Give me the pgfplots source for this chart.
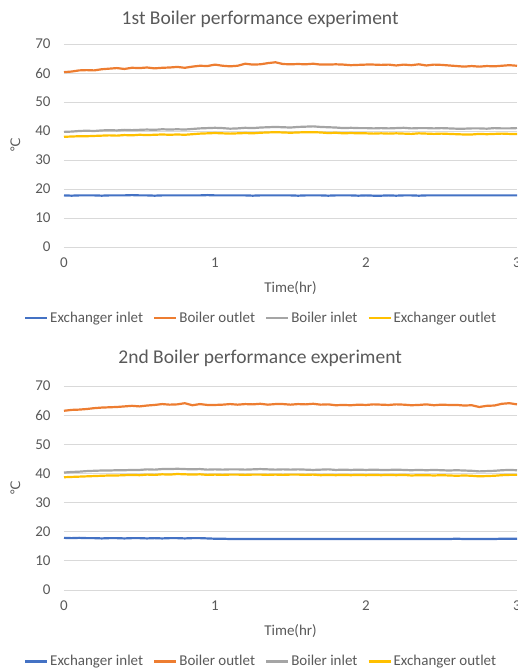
\documentclass[border=0pt]{standalone}
\usepackage{pgfplots}
\usepackage{pgfplotstable}
\pgfplotsset{compat=1.18}
\usepackage{fontspec}
\setmainfont{Carlito}
\newfontfamily\dejavu{DejaVu Sans}
\definecolor{txt}{HTML}{595959}
\definecolor{gridc}{HTML}{D9D9D9}
\definecolor{cblue}{HTML}{4472C4}
\definecolor{corange}{HTML}{ED7D31}
\definecolor{cgray}{HTML}{A5A5A5}
\definecolor{cyellow}{HTML}{FFC000}

\pgfplotstableread{
x a b c d
0.00 17.8 60.3 39.7 38.0
0.05 17.7 60.5 39.8 38.1
0.10 17.8 60.9 40.0 38.2
0.15 17.8 61.0 40.1 38.2
0.20 17.8 60.9 40.0 38.3
0.25 17.7 61.3 40.2 38.4
0.30 17.8 61.5 40.3 38.5
0.35 17.8 61.7 40.2 38.4
0.40 17.8 61.4 40.4 38.6
0.45 17.9 61.8 40.3 38.5
0.50 17.8 61.7 40.4 38.7
0.55 17.8 61.9 40.5 38.6
0.60 17.7 61.6 40.4 38.7
0.65 17.8 61.8 40.6 38.8
0.70 17.8 61.9 40.5 38.7
0.75 17.8 62.1 40.6 38.8
0.80 17.8 61.8 40.5 38.7
0.85 17.8 62.2 40.7 38.9
0.90 17.8 62.5 40.9 39.1
0.95 17.9 62.4 41.0 39.2
1.00 17.8 62.9 41.1 39.3
1.05 17.8 62.5 41.0 39.2
1.10 17.8 62.3 40.8 39.1
1.15 17.8 62.5 40.9 39.2
1.20 17.8 63.2 41.1 39.3
1.25 17.7 62.9 41.0 39.2
1.30 17.8 63.0 41.2 39.4
1.35 17.8 63.4 41.3 39.5
1.40 17.8 63.7 41.4 39.6
1.45 17.8 63.1 41.3 39.5
1.50 17.8 63.0 41.2 39.4
1.55 17.7 63.1 41.4 39.5
1.60 17.8 63.0 41.5 39.6
1.65 17.8 63.2 41.6 39.6
1.70 17.8 62.9 41.4 39.5
1.75 17.7 62.9 41.3 39.3
1.80 17.8 63.0 41.2 39.4
1.85 17.8 62.9 41.0 39.2
1.90 17.8 62.7 41.1 39.3
1.95 17.7 62.8 41.0 39.2
2.00 17.8 62.9 41.0 39.2
2.05 17.7 62.9 40.9 39.1
2.10 17.7 62.8 41.0 39.2
2.15 17.8 62.9 40.9 39.1
2.20 17.7 62.6 41.0 39.2
2.25 17.8 62.9 41.1 39.1
2.30 17.8 62.7 40.9 39.0
2.35 17.7 63.0 41.0 39.2
2.40 17.8 62.6 41.0 39.1
2.45 17.8 62.9 40.9 39.0
2.50 17.8 62.8 41.0 39.1
2.55 17.8 62.6 40.9 39.0
2.60 17.8 62.4 40.8 38.9
2.65 17.8 62.2 40.8 38.8
2.70 17.8 62.4 40.9 38.8
2.75 17.8 62.2 40.9 39.0
2.80 17.8 62.4 40.8 38.9
2.85 17.8 62.3 41.0 39.0
2.90 17.8 62.5 40.9 39.1
2.95 17.8 62.7 40.9 39.0
3.00 17.8 62.5 41.0 39.0
}\tabA

\pgfplotstableread{
x a b c d
0.00 17.9 61.5 40.3 38.7
0.05 17.8 61.8 40.5 38.8
0.10 17.9 61.9 40.6 38.9
0.15 17.8 62.1 40.8 39.0
0.20 17.8 62.4 40.9 39.1
0.25 17.7 62.6 41.0 39.2
0.30 17.8 62.7 41.0 39.3
0.35 17.8 62.8 41.1 39.3
0.40 17.7 63.0 41.1 39.4
0.45 17.8 63.2 41.2 39.5
0.50 17.8 63.0 41.2 39.4
0.55 17.7 63.3 41.4 39.6
0.60 17.8 63.5 41.3 39.5
0.65 17.7 63.8 41.5 39.7
0.70 17.8 63.6 41.5 39.6
0.75 17.8 63.7 41.6 39.8
0.80 17.7 64.1 41.5 39.7
0.85 17.8 63.4 41.4 39.6
0.90 17.8 63.8 41.5 39.7
0.95 17.7 63.5 41.3 39.5
1.00 17.6 63.5 41.4 39.6
1.05 17.6 63.6 41.3 39.5
1.10 17.5 63.8 41.4 39.6
1.15 17.5 63.6 41.4 39.6
1.20 17.5 63.8 41.3 39.5
1.25 17.5 63.7 41.4 39.6
1.30 17.5 63.9 41.5 39.6
1.35 17.5 63.6 41.4 39.5
1.40 17.5 63.8 41.3 39.6
1.45 17.5 63.8 41.4 39.5
1.50 17.5 63.6 41.3 39.6
1.55 17.5 63.8 41.4 39.6
1.60 17.5 63.7 41.3 39.5
1.65 17.5 63.9 41.2 39.6
1.70 17.5 63.6 41.3 39.4
1.75 17.5 63.7 41.4 39.5
1.80 17.5 63.4 41.2 39.4
1.85 17.5 63.5 41.3 39.5
1.90 17.5 63.4 41.2 39.4
1.95 17.5 63.6 41.3 39.5
2.00 17.5 63.5 41.2 39.4
2.05 17.5 63.7 41.3 39.5
2.10 17.5 63.6 41.2 39.4
2.15 17.5 63.5 41.2 39.5
2.20 17.5 63.7 41.3 39.4
2.25 17.5 63.6 41.2 39.5
2.30 17.5 63.4 41.1 39.3
2.35 17.5 63.5 41.2 39.4
2.40 17.5 63.7 41.1 39.4
2.45 17.5 63.4 41.2 39.3
2.50 17.5 63.6 41.1 39.4
2.55 17.5 63.5 41.0 39.3
2.60 17.6 63.5 41.1 39.2
2.65 17.5 63.3 41.0 39.3
2.70 17.5 63.4 40.9 39.2
2.75 17.5 62.8 40.7 39.0
2.80 17.5 63.2 40.8 39.1
2.85 17.5 63.3 40.9 39.2
2.90 17.6 63.9 41.1 39.4
2.95 17.6 64.1 41.2 39.5
3.00 17.6 63.7 41.1 39.5
}\tabB

\pgfplotsset{
  panel/.style={
    scale only axis, width=453pt, height=203pt,
    anchor=south west,
    xmin=0, xmax=3, ymin=0, ymax=70,
    xtick={0,1,2,3}, ytick={0,10,...,70},
    axis line style={draw=none},
    tick style={draw=none},
    xmajorgrids=false, ymajorgrids=true,
    major grid style={draw=gridc, line width=0.9pt},
    /pgf/number format/assume math mode=true,
    tick label style={font=\fontsize{15}{17}\selectfont, text=txt},
    xticklabel style={yshift=-7pt},
    yticklabel style={xshift=-10pt},
    xlabel={Time(hr)},
    xlabel style={font=\fontsize{15}{17}\selectfont, text=txt, yshift=-7pt},
    ylabel={{\dejavu ℃}},
    ylabel style={font=\fontsize{13}{15}\selectfont, text=txt, yshift=8pt},
    title style={font=\fontsize{19.5}{22}\selectfont, text=txt, at={(0.433,1.092)}, anchor=center},
    legend columns=4,
    legend style={at={(0.435,-0.35)}, anchor=center, draw=none, fill=none,
      font=\fontsize{15}{17}\selectfont, text=txt,
      /tikz/every even column/.append style={column sep=8pt}},
    legend image code/.code={\draw[line width=2.2pt] (0pt,0pt) -- (22pt,0pt);},
    every axis plot/.append style={line width=2.2pt, line join=round},
  }
}

\begin{document}
\begin{tikzpicture}
\useasboundingbox (0pt,0pt) rectangle (518pt,-670pt);
\begin{axis}[panel, at={(64pt,-247pt)}, title={1st Boiler performance experiment}]
\addplot[cblue] table[x=x,y=a] {\tabA};
\addlegendentry{Exchanger inlet}
\addplot[corange] table[x=x,y=b] {\tabA};
\addlegendentry{Boiler outlet}
\addplot[cgray] table[x=x,y=c] {\tabA};
\addlegendentry{Boiler inlet}
\addplot[cyellow] table[x=x,y=d] {\tabA};
\addlegendentry{Exchanger outlet}
\end{axis}
\begin{axis}[panel, height=204pt, at={(64pt,-590pt)}, title={2nd Boiler performance experiment},
  title style={at={(0.433,1.105)}}]
\addplot[cblue] table[x=x,y=a] {\tabB};
\addlegendentry{Exchanger inlet}
\addplot[corange] table[x=x,y=b] {\tabB};
\addlegendentry{Boiler outlet}
\addplot[cgray] table[x=x,y=c] {\tabB};
\addlegendentry{Boiler inlet}
\addplot[cyellow] table[x=x,y=d] {\tabB};
\addlegendentry{Exchanger outlet}
\end{axis}
\end{tikzpicture}
\end{document}
